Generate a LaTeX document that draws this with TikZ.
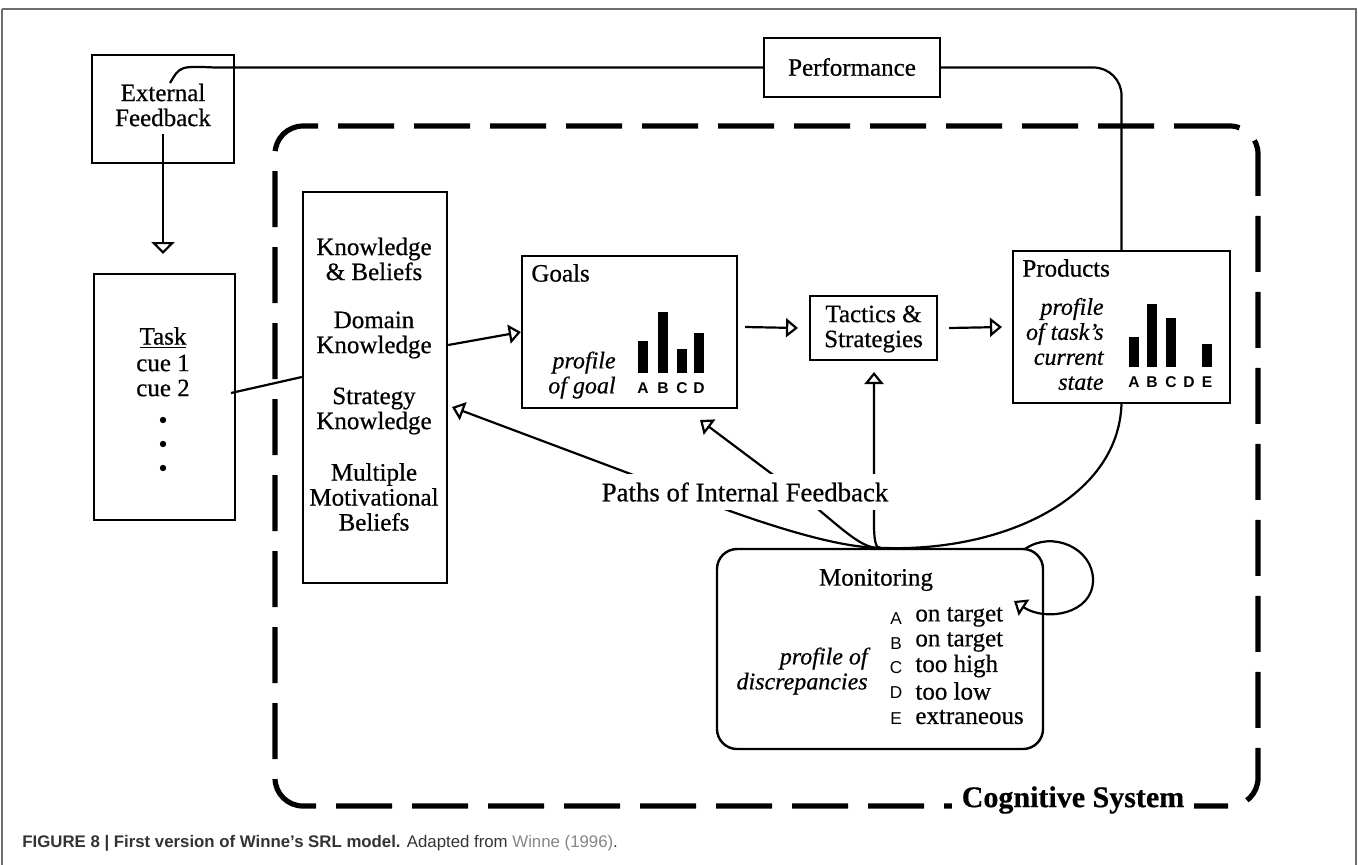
\documentclass[tikz,border=0pt]{standalone}
\usepackage{fontspec}
\setmainfont{Liberation Serif}[FakeBold=0.6]
\setsansfont{Liberation Sans}
\newfontfamily\capfont{Liberation Sans}
\usetikzlibrary{arrows.meta}
\definecolor{framec}{HTML}{6E6E6E}
\definecolor{captxt}{HTML}{333333}
\definecolor{caplink}{HTML}{858585}
\begin{document}
\begin{tikzpicture}[x=0.5pt,y=-0.5pt,
 box/.style={draw, line width=1.2pt, inner sep=0pt},
 txt/.style={font=\fontsize{12.5}{12.5}\selectfont, align=center, inner sep=0pt},
 itx/.style={font=\fontsize{12}{12.5}\selectfont\itshape, align=right, inner sep=0pt, anchor=east},
 lett/.style={font=\sffamily\bfseries\fontsize{7.8}{8}\selectfont, inner sep=0pt},
 mlett/.style={font=\sffamily\fontsize{8.6}{8}\selectfont, inner sep=0pt},
 conn/.style={line width=1.1pt},
 otip/.style={-{Triangle[open,length=6pt,width=9.5pt,line width=1.1pt]}},
 bigtip/.style={-{Triangle[open,length=6pt,width=11.5pt,line width=1.1pt]}},
 cogline/.style={line width=2.6pt, dash pattern=on 28pt off 10pt, rounded corners=14pt},
]
\useasboundingbox (0,0) rectangle (1358,864);
% outer frame
\draw[framec, line width=1pt] (2,8.5) -- (1355.5,8.5) -- (1355.5,900);
\draw[framec, line width=1pt] (2,8.5) -- (2,900);

% cognitive system boundary
\node[draw, cogline, minimum width=491.5pt, minimum height=340pt, inner sep=0pt] (cog) at (766.5,466) {};

% boxes
\node[box, minimum width=71pt, minimum height=54pt] (ext) at (163,109) {};
\node[txt] (extT) at (163,105) {External\\Feedback};
\node[box, minimum width=88pt, minimum height=29.5pt] (perf) at (852,67.5) {};
\node[txt] (perfT) at (852,67) {Performance};
\node[box, minimum width=70.5pt, minimum height=123pt] (task) at (164.5,397) {};
\node[txt] (taskT) at (163,338) {\underline{Task}};
\node[txt] (cue1) at (163,363) {cue 1};
\node[txt] (cue2) at (163,388) {cue 2};
\fill (163,420) circle (1.6pt);
\fill (163,444) circle (1.6pt);
\fill (163,468) circle (1.6pt);
\node[box, minimum width=72pt, minimum height=195.5pt] (kb) at (375,387.5) {};
\node[txt] (kb1) at (374,259) {Knowledge\\\& Beliefs};
\node[txt] (kb2) at (374,335) {Domain\\Knowledge};
\node[txt] (kb3) at (374,411) {Strategy\\Knowledge};
\node[txt] (kb4) at (374,497) {Multiple\\Motivational\\Beliefs};

\node[box, minimum width=107.5pt, minimum height=76pt] (goals) at (629.5,332) {};
\node[txt, anchor=west] (goalsT) at (531,273) {Goals};
\node[itx] (goalsI) at (616,375) {profile\\of goal};
\fill (638,341) rectangle (648,373);
\fill (658,312) rectangle (668,373);
\fill (677,349) rectangle (687,373);
\fill (694,333) rectangle (704,373);
\node[lett] (gA) at (643,388) {A};
\node[lett] (gB) at (663,388) {B};
\node[lett] (gC) at (682,388) {C};
\node[lett] (gD) at (699,388) {D};

\node[box, minimum width=63.5pt, minimum height=32pt] (tac) at (873.5,328) {};
\node[txt] (tacT) at (873.5,329) {Tactics \&\\Strategies};

\node[box, minimum width=108.5pt, minimum height=76pt] (prod) at (1121.5,327) {};
\node[txt, anchor=west] (prodT) at (1022,268) {Products};
\node[itx] (prodI) at (1104,344) {profile\\of task's\\current\\state};
\fill (1129,337) rectangle (1139,367);
\fill (1147,304) rectangle (1157,367);
\fill (1166,318) rectangle (1176,367);
\fill (1202,344) rectangle (1212,367);
\node[lett] (pA) at (1134,382) {A};
\node[lett] (pB) at (1152,382) {B};
\node[lett] (pC) at (1171,382) {C};
\node[lett] (pD) at (1189,382) {D};
\node[lett] (pE) at (1207,382) {E};

\node[box, rounded corners=10pt, minimum width=163pt, minimum height=100pt] (mon) at (880,649) {};
\node[txt] (monT) at (876,580) {Monitoring};
\node[itx] (monI) at (868,671) {profile of\\discrepancies};
\node[mlett] (mA) at (896,619) {A};
\node[mlett] (mB) at (896,644) {B};
\node[mlett] (mC) at (896,668) {C};
\node[mlett] (mD) at (896,693) {D};
\node[mlett] (mE) at (896,719) {E};
\node[txt, anchor=west] (mA2) at (915,617) {on target};
\node[txt, anchor=west] (mB2) at (915,642) {on target};
\node[txt, anchor=west] (mC2) at (915,666) {too high};
\node[txt, anchor=west] (mD2) at (915,691) {too low};
\node[txt, anchor=west] (mE2) at (915,717) {extraneous};

% coordinates for connector ends
\coordinate (extIn) at (163,134);
\coordinate (taskTip) at (163,254);
\coordinate (extOut) at (170,83);
\coordinate (c2) at (231,393);
\coordinate (kbIn) at (kb.west |- 0,377);
\coordinate (dkOut) at (kb.east |- 0,345);
\coordinate (kTip) at (452,407);
\coordinate (gTip) at (700,420);
\coordinate (tTip) at (874,372);
\coordinate (loopS) at (1025,549);
\coordinate (loopE) at (1014,601);

% connectors
\draw[conn, bigtip] (extIn) -- (taskTip);
\draw[conn] (extOut) .. controls (180,66) .. (215,67.5) -- (perf.west);
\draw[conn, rounded corners=14pt] (perf.east) -| (prod.north);
\draw[conn] (c2) -- (kbIn);
\draw[conn, otip] (dkOut) -- (goals.west);
\draw[conn, otip] (goals.east) ++(7,-5) coordinate (gOut) (gOut) -- (tac.west -| 798,0);
\draw[conn, otip] (tac.east) ++(11,0) coordinate (tOut) (tOut) -- (prod.west -| 1002,0);
\draw[conn] (prod.south) .. controls (1118,500) and (1000,553) .. (mon.north);
\draw[conn, otip] (mon.north) .. controls (830,548) and (740,515) .. (700,500) -- (kTip);
\draw[conn, otip] (mon.north) .. controls (860,550) and (835,521) .. (800,495) -- (gTip);
\draw[conn, otip] (mon.north) .. controls (876,549) and (874,540) .. (874,525) -- (tTip);
\draw[conn, otip] (loopS) .. controls (1052,530) and (1093,548) .. (1093,580) .. controls (1093,614) and (1046,622) .. (loopE);

% labels on top of connectors
\node[txt, fill=white, inner xsep=1pt, inner ysep=4pt, font=\fontsize{13.4}{14}\selectfont] (paths) at (745,492) {Paths of Internal Feedback};
\node[fill=white, inner xsep=5pt, inner ysep=3pt, font=\bfseries\fontsize{15}{16}\selectfont] (cogT) at (1073,800) {Cognitive System};

% caption
\node[anchor=west, inner sep=0pt, font=\capfont\fontsize{8.4}{9}\selectfont, text=captxt] (cap) at (22,843) {\textbf{FIGURE 8 | First version of Winne’s SRL model.} Adapted from \textcolor{caplink}{Winne (1996)}.};
\end{tikzpicture}
\end{document}
